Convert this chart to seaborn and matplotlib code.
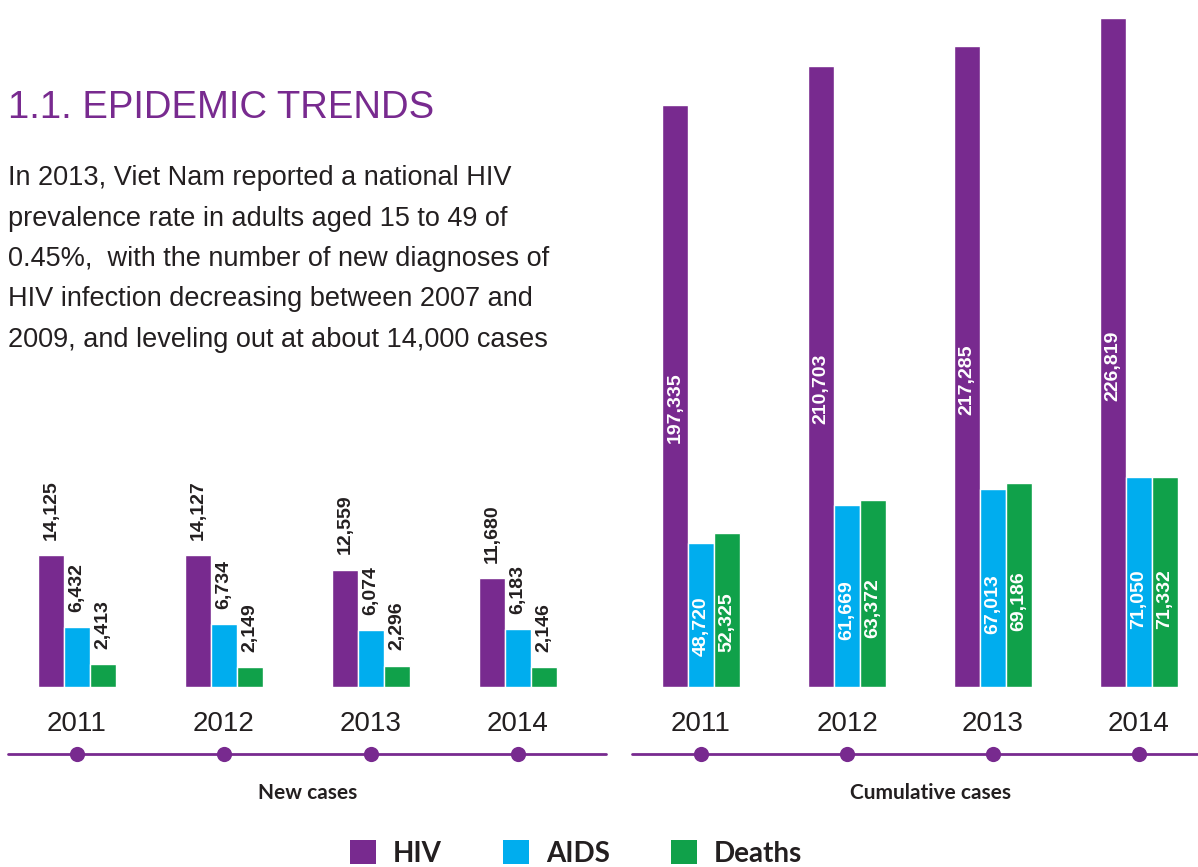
import pandas as pd
import matplotlib.pyplot as plt
import matplotlib.transforms as mtransforms
from matplotlib.patches import Patch
import seaborn as sns

# ---- data ----
years = ["2011", "2012", "2013", "2014"]
series = ["HIV", "AIDS", "Deaths"]
new_hiv = [14125, 14127, 12559, 11680]
new_aids = [6432, 6734, 6074, 6183]
new_deaths = [2413, 2149, 2296, 2146]
cum_hiv = [197335, 210703, 217285, 226819]
cum_aids = [48720, 61669, 67013, 71050]
cum_deaths = [52325, 63372, 69186, 71332]

title = "1.1. EPIDEMIC TRENDS"
body_lines = [
    "In 2013, Viet Nam reported a national HIV",
    "prevalence rate in adults aged 15 to 49 of",
    "0.45%,  with the number of new diagnoses of",
    "HIV infection decreasing between 2007 and",
    "2009, and leveling out at about 14,000 cases",
]

PURPLE = "#782A8F"
BLUE = "#00ADEE"
GREEN = "#10A14A"
TXT = "#231F20"
palette = {"HIV": PURPLE, "AIDS": BLUE, "Deaths": GREEN}


def long_df(hiv, aids, deaths):
    rows = []
    for name, vals in zip(series, [hiv, aids, deaths]):
        for y, v in zip(years, vals):
            rows.append({"Year": y, "Type": name, "Value": v})
    return pd.DataFrame(rows)


df_new = long_df(new_hiv, new_aids, new_deaths)
df_cum = long_df(cum_hiv, cum_aids, cum_deaths)

sns.set_theme(style="white")
plt.rcParams["font.family"] = ["Liberation Sans", "DejaVu Sans"]

W, H = 1198, 867
fig = plt.figure(figsize=(W / 100, H / 100), dpi=100)

base_px = 687
ax1 = fig.add_axes([8 / W, (H - base_px) / H, 598 / W, 303 / H])
ax2 = fig.add_axes([632 / W, (H - base_px) / H, 566 / W, base_px / H])


def draw_panel(ax, df, ymax, xlim, inside):
    sns.barplot(data=df, x="Year", y="Value", hue="Type", palette=palette,
                width=0.53, saturation=1, legend=False, ax=ax, order=years,
                hue_order=series)
    ax.set_xlim(*xlim)
    ax.set_ylim(0, ymax)
    for s in ax.spines.values():
        s.set_visible(False)
    ax.set_yticks([])
    ax.set_xlabel("")
    ax.set_ylabel("")
    ax.tick_params(axis="x", length=0, labelsize=20, pad=17, labelcolor=TXT)

    # value labels
    for name, cont in zip(series, ax.containers):
        frac = 0.48 if name == "HIV" else 0.42
        for bar in cont:
            v = bar.get_height()
            xc = bar.get_x() + bar.get_width() / 2
            if inside:
                ax.text(xc, v * frac, f"{v:,.0f}", rotation=90, ha="center",
                        va="center", color="white", fontsize=14,
                        fontweight="bold")
            else:
                ax.annotate(f"{v:,.0f}", (xc, v), xytext=(0, 11),
                            textcoords="offset points", rotation=90,
                            ha="center", va="bottom", color=TXT,
                            fontsize=14, fontweight="bold")

    # timeline with dots
    trans = mtransforms.blended_transform_factory(ax.transData, fig.transFigure)
    yline = (H - 754) / H
    ax.plot(xlim, [yline, yline], color=PURPLE, lw=2, transform=trans,
            clip_on=False, zorder=3)
    ax.scatter(range(len(years)), [yline] * len(years), s=120, color=PURPLE,
               transform=trans, clip_on=False, zorder=4, linewidths=0)


k1 = 132 / 14125
draw_panel(ax1, df_new, 303 / k1, (-0.469, 3.599), inside=False)
k2 = 669 / 226819
draw_panel(ax2, df_cum, base_px / k2, (-0.473, 3.404), inside=True)

# texts
fig.text(8 / W, 1 - 118 / H, title, color=PURPLE, fontsize=27.5,
         va="baseline", ha="left")
for i, line in enumerate(body_lines):
    fig.text(8 / W, 1 - (185 + 40.5 * i) / H, line, color=TXT, fontsize=19.5,
             va="baseline", ha="left")

fig.text(308 / W, 1 - 793 / H, "New cases", ha="center", va="center",
         fontsize=15, fontweight="bold", color=TXT, family=["Lato", "DejaVu Sans"])
fig.text(931 / W, 1 - 793 / H, "Cumulative cases", ha="center", va="center",
         fontsize=15, fontweight="bold", color=TXT, family=["Lato", "DejaVu Sans"])

handles = [Patch(facecolor=palette[s], edgecolor="none") for s in series]
fig.legend(handles, series, loc="upper center", bbox_to_anchor=(576 / W, 1 - 840 / H),
           ncol=3, frameon=False, borderpad=0, borderaxespad=0,
           handlelength=0.95, handleheight=0.95, handletextpad=0.6,
           columnspacing=2.2, labelcolor=TXT,
           prop={"family": "Lato", "size": 20, "weight": "bold"})

fig.savefig("out.png", dpi=100)
